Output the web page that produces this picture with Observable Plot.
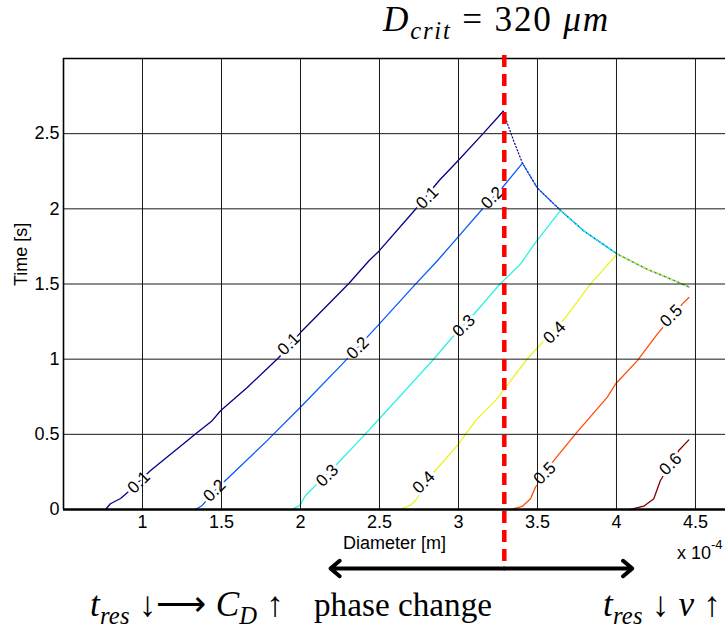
<!DOCTYPE html>
<html>
<head>
<meta charset="utf-8">
<script src="https://cdn.jsdelivr.net/npm/d3@7"></script>
<script src="https://cdn.jsdelivr.net/npm/@observablehq/plot@0.6"></script>
<style>
  body { margin: 0; background: #fff; }
  #chart { width: 725px; height: 631px; }
</style>
</head>
<body>
<div id="chart"></div>
<script>
// Diameters are given in units of 1e-4 m (the axis carries the "x 10^-4" multiplier), times in seconds.
const levels = [0.1, 0.2, 0.3, 0.4, 0.5, 0.6];
const levelColors = ["#00008c", "#0a58ff", "#2cf2e4", "#ecf21c", "#ff4b0c", "#800000"];

// Rising branch of each contour level
const level01D = [0.766, 0.797, 0.861, 0.905, 1.051, 1.283, 1.335, 1.441, 1.494, 1.663, 1.863, 2.000, 2.306, 2.432, 2.498, 2.728, 2.875, 2.994, 3.160, 3.283];
const level01T = [0.000, 0.038, 0.073, 0.113, 0.259, 0.458, 0.503, 0.591, 0.657, 0.812, 1.011, 1.177, 1.503, 1.653, 1.720, 1.997, 2.185, 2.317, 2.505, 2.649];
const level02D = [1.335, 1.378, 1.449, 1.525, 1.789, 1.831, 1.998, 2.264, 2.498, 2.728, 2.865, 2.994, 3.150, 3.277, 3.405];
const level02T = [0.000, 0.027, 0.115, 0.193, 0.458, 0.503, 0.679, 0.967, 1.233, 1.499, 1.653, 1.808, 1.997, 2.140, 2.304];
const level03D = [1.945, 1.996, 2.032, 2.242, 2.411, 2.498, 2.844, 2.960, 3.097, 3.266, 3.392, 3.487, 3.646];
const level03T = [0.000, 0.027, 0.093, 0.314, 0.503, 0.602, 1.001, 1.144, 1.299, 1.503, 1.632, 1.775, 1.990];
const level04D = [2.622, 2.696, 2.728, 2.844, 2.992, 3.108, 3.234, 3.435, 3.677, 3.835, 4.004];
const level04T = [0.000, 0.027, 0.060, 0.248, 0.425, 0.591, 0.724, 1.001, 1.277, 1.499, 1.700];
const level05D = [3.335, 3.403, 3.456, 3.487, 3.603, 3.741, 3.941, 3.994, 4.131, 4.258, 4.416, 4.458];
const level05T = [0.000, 0.020, 0.071, 0.148, 0.325, 0.503, 0.746, 0.835, 0.989, 1.167, 1.366, 1.410];
const level06D = [4.089, 4.173, 4.236, 4.278, 4.394, 4.458];
const level06T = [0.000, 0.022, 0.071, 0.193, 0.392, 0.463];

// Upper envelope shared by the lower levels once they peak
const envelopeD = [3.283, 3.308, 3.350, 3.405, 3.498, 3.646, 3.793, 4.004, 4.194, 4.321, 4.458];
const envelopeT = [2.649, 2.572, 2.450, 2.304, 2.140, 1.990, 1.853, 1.700, 1.598, 1.543, 1.481];
const dottedTailLevels = [0.1, 0.2];
const solidTailLevels = [0.3, 0.4];

// Inline contour labels
const labelLevel = [0.1, 0.1, 0.1, 0.2, 0.2, 0.2, 0.3, 0.3, 0.4, 0.4, 0.5, 0.5, 0.6];
const labelD = [0.977, 1.926, 2.802, 1.456, 2.363, 3.213, 2.169, 3.034, 2.780, 3.608, 3.546, 4.346, 4.342];
const labelT = [0.181, 1.100, 2.074, 0.126, 1.074, 2.074, 0.226, 1.222, 0.181, 1.177, 0.241, 1.288, 0.303];

const xTicks = [1, 1.5, 2, 2.5, 3, 3.5, 4, 4.5];
const yTicks = [0, 0.5, 1, 1.5, 2, 2.5];
const xDomain = [0.5, 4.69];
const yDomain = [0, 3];

const dCrit = 3.29;               // critical diameter marker
const phaseChange = [2.19, 4.10]; // extent of the phase-change arrow

// ---- build tables for the marks ----
const risingD = [level01D, level02D, level03D, level04D, level05D, level06D];
const risingT = [level01T, level02T, level03T, level04T, level05T, level06T];
const rising = levels.flatMap((level, i) =>
  risingD[i].map((D, j) => ({level, D, t: risingT[i][j]})));
const envelope = envelopeD.map((D, j) => ({D, t: envelopeT[j]}));
function tail(level) {
  const i = levels.indexOf(level);
  const n = risingD[i].length;
  const peakD = risingD[i][n - 1];
  return [{level, D: peakD, t: risingT[i][n - 1]},
    ...envelope.filter(p => p.D > peakD + 1e-3).map(p => ({level, ...p}))];
}
const dottedTails = dottedTailLevels.flatMap(tail);
const solidTails = solidTailLevels.flatMap(tail);
const labels = labelLevel.map((level, i) => ({level, D: labelD[i], t: labelT[i]}));
const arrows = phaseChange.map(end => ({from: dCrit, to: end}));

const labelFont = {fontSize: 17, fontFamily: "Liberation Sans, Arial, sans-serif"};

const plot = Plot.plot({
  width: 725,
  height: 631,
  marginLeft: 63,
  marginTop: 58,
  marginRight: 0,
  marginBottom: 122,
  style: {fontFamily: "Liberation Sans, Arial, sans-serif", fontSize: "18px", background: "white", color: "black"},
  x: {domain: xDomain, ticks: xTicks, tickSize: 0, tickPadding: 6, tickFormat: d => String(d), label: null},
  y: {domain: yDomain, ticks: yTicks, tickSize: 0, tickPadding: 4, tickFormat: d => String(d), label: null},
  color: {domain: levels, range: levelColors},
  marks: [
    Plot.line(rising, {x: "D", y: "t", z: "level", stroke: "level", strokeWidth: 1.3}),
    Plot.line(dottedTails, {x: "D", y: "t", z: "level", stroke: "level", strokeWidth: 1.2, strokeDasharray: "1.2,2.2"}),
    Plot.line(solidTails, {x: "D", y: "t", z: "level", stroke: "level", strokeWidth: 1.4}),
    Plot.line(dottedTails.filter(d => d.level === dottedTailLevels[1]), {x: "D", y: "t", stroke: levelColors[1], strokeWidth: 1, strokeDasharray: "1,4"}),
    // white halo that opens a gap in the contour under each label
    Plot.text(labels, {x: "D", y: "t", text: d => d.level.toFixed(1), rotate: -45, fill: "white", stroke: "white", strokeWidth: 6, ...labelFont}),
    // grid
    Plot.ruleX(xTicks, {stroke: "#1a1a1a", strokeWidth: 1}),
    Plot.ruleY(yTicks.filter(t => t > 0), {stroke: "#1a1a1a", strokeWidth: 1}),
    // box
    Plot.ruleX([xDomain[0]], {stroke: "black", strokeWidth: 1.6}),
    Plot.ruleY([yDomain[1]], {stroke: "black", strokeWidth: 1.6}),
    Plot.ruleY([yDomain[0]], {stroke: "black", strokeWidth: 2.6}),
    // contour labels
    Plot.text(labels, {x: "D", y: "t", text: d => d.level.toFixed(1), rotate: -45, fill: "black", ...labelFont}),
    // axis titles
    Plot.text(["Diameter [m]"], {frameAnchor: "bottom", dy: 39, fontSize: 18}),
    Plot.text(["Time [s]"], {frameAnchor: "left", rotate: -90, dx: -42, dy: 2, fontSize: 18}),
    // critical diameter and phase-change arrow
    Plot.ruleX([dCrit], {stroke: "#ff0000", strokeWidth: 4.5, strokeDasharray: "12,7", insetTop: -3, insetBottom: -61}),
    Plot.arrow(arrows, {x1: "from", x2: "to", y1: () => yDomain[0], y2: () => yDomain[0], dy: 59, stroke: "black", strokeWidth: 4, headLength: 4.5, headAngle: 80})
  ]
});

document.getElementById("chart").appendChild(plot);

// Math-style annotations (serif, italic symbols, subscripts)
const svg = d3.select(plot);
function buildMath(x, y, parts, size) {
  const t = svg.append("text")
    .attr("x", x).attr("y", y)
    .attr("text-anchor", "start")
    .attr("font-family", "Liberation Serif, Times New Roman, serif")
    .attr("font-size", size)
    .attr("fill", "black");
  let shift = 0;
  for (const p of parts) {
    const target = p.sub ? Math.round(size * 0.22) : 0;
    const s = t.append("tspan").text(p.s)
      .attr("dy", target - shift)
      .attr("font-size", p.sub ? size * 0.7 : size);
    if (p.i) s.attr("font-style", "italic");
    shift = target;
  }
  return t;
}
// Lay a formula out from its left edge so that it spans the given width.
function mathText(x, y, parts, size, width) {
  let t = buildMath(x, y, parts, size);
  const w = t.node().getComputedTextLength();
  t.remove();
  const k = Math.max(0.92, Math.min(1.1, width / w));
  t = buildMath(x, y, parts, size * k);
  const w2 = t.node().getComputedTextLength();
  const chars = parts.reduce((n, p) => n + [...p.s].length, 0);
  t.attr("letter-spacing", (width - w2) / chars);
  return t;
}
mathText(383, 31, [{s: "D", i: true}, {s: "crit", i: true, sub: true}, {s: " = 320 "}, {s: "μm", i: true}], 32, 227);
mathText(90, 616, [{s: "t", i: true}, {s: "res", i: true, sub: true}, {s: " ↓⟶ "}, {s: "C", i: true}, {s: "D", i: true, sub: true}, {s: " ↑"}], 32, 194);
mathText(314, 616, [{s: "phase change"}], 32, 178);
mathText(603, 616, [{s: "t", i: true}, {s: "res", i: true, sub: true}, {s: " ↓ "}, {s: "v", i: true}, {s: " ↑"}], 32, 118);

// axis multiplier
const mult = svg.append("text").attr("x", 677).attr("y", 559).attr("text-anchor", "start")
  .attr("font-family", "Liberation Sans, Arial, sans-serif").attr("font-size", 18);
mult.append("tspan").text("x 10");
mult.append("tspan").text("-4").attr("font-size", 13).attr("dy", -10);
</script>
</body>
</html>
